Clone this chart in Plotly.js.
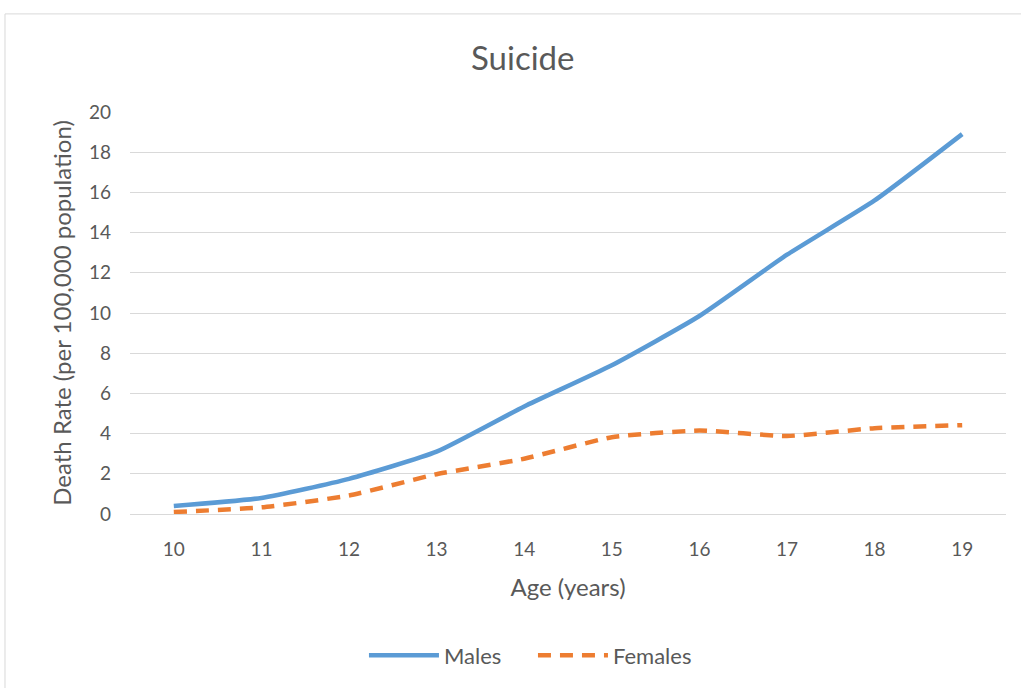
<!DOCTYPE html>
<html>
<head>
<meta charset="utf-8">
<script src="https://cdn.plot.ly/plotly-3.0.1.min.js"></script>
<style>html,body{margin:0;padding:0;background:#fff;}#chart{width:1021px;height:688px;}</style>
</head>
<body>
<div id="chart"></div>
<script>
const ages = ['10','11','12','13','14','15','16','17','18','19'];
const males = [0.4, 0.8, 1.75, 3.1, 5.35, 7.4, 9.85, 12.9, 15.6, 18.9];
const females = [0.1, 0.33, 0.92, 1.98, 2.75, 3.82, 4.15, 3.88, 4.27, 4.42];
const yTicks = [0,2,4,6,8,10,12,14,16,18,20];

const FONT = 'Lato, "Open Sans", sans-serif';
const GREY = '#595959';

const traces = [
  {x: ages, y: males, name: 'Males', type: 'scatter', mode: 'lines',
   line: {color: '#5b9bd5', width: 4.5, shape: 'spline', smoothing: 0.5}},
  {x: ages, y: females, name: 'Females', type: 'scatter', mode: 'lines',
   line: {color: '#ed7d31', width: 4.5, dash: '13px,9px', shape: 'spline', smoothing: 0.5}}
];

const layout = {
  width: 1021, height: 688,
  margin: {l: 130, r: 15, t: 112, b: 171},
  paper_bgcolor: '#fff', plot_bgcolor: '#fff',
  font: {family: FONT, color: GREY, size: 19},
  title: {text: 'Suicide', font: {family: FONT, size: 33, color: GREY}, x: 0.512, xanchor: 'center', y: 0.915, yanchor: 'middle'},
  xaxis: {
    type: 'category', categoryorder: 'array', categoryarray: ages,
    range: [-0.5, 9.5],
    showgrid: false, zeroline: false, showline: false, ticks: '',
    tickfont: {family: FONT, size: 19, color: GREY},
    ticklabelstandoff: 22,
    title: {text: 'Age (years)', font: {family: FONT, size: 24, color: GREY}, standoff: 20},
    fixedrange: true
  },
  yaxis: {
    range: [0, 20], tickvals: yTicks, ticktext: yTicks.map(String),
    showgrid: true, gridcolor: '#d9d9d9', gridwidth: 1,
    zeroline: true, zerolinecolor: '#d9d9d9', zerolinewidth: 1,
    showline: false, ticks: '',
    tickfont: {family: FONT, size: 19, color: GREY},
    ticklabelstandoff: 18,
    title: {text: 'Death Rate (per 100,000 population)', font: {family: FONT, size: 24, color: GREY}, standoff: 10},
    fixedrange: true
  },
  showlegend: true,
  legend: {orientation: 'h', x: 0.46, xanchor: 'center', y: -0.352, yanchor: 'middle',
           font: {family: FONT, size: 22, color: GREY}, itemwidth: 70, entrywidth: 84, traceorder: 'normal'},
  shapes: [{type: 'rect', xref: 'paper', yref: 'paper', x0: -0.1427, x1: 1.1, y0: -0.6, y1: 1.244,
            line: {color: '#d9d9d9', width: 1}, fillcolor: 'rgba(0,0,0,0)', layer: 'below'}]
};

Plotly.newPlot('chart', traces, layout, {displayModeBar: false, staticPlot: true});
</script>
</body>
</html>
